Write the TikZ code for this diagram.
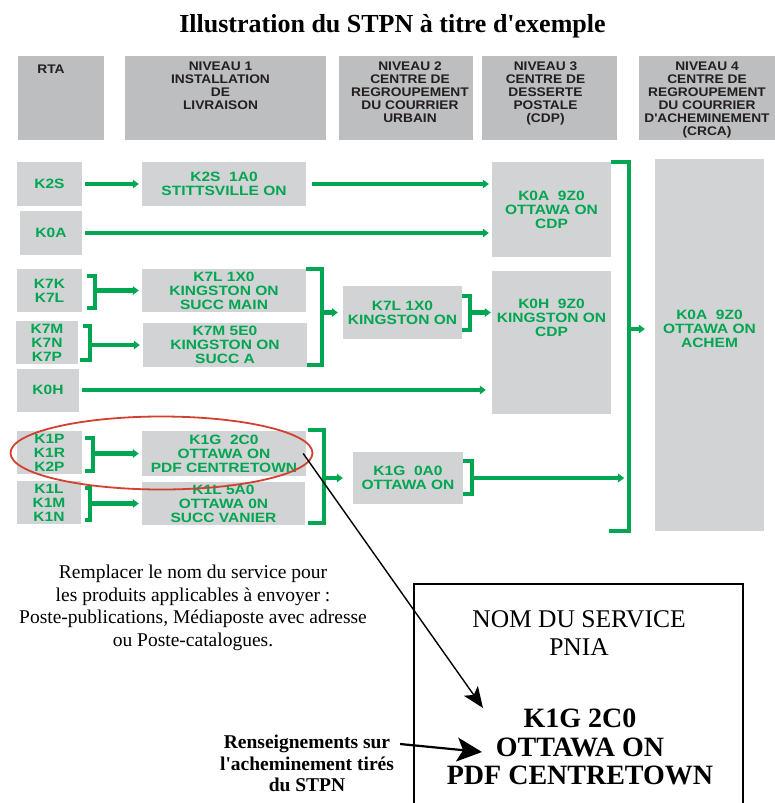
\documentclass[tikz,border=0pt]{standalone}
\usepackage{fontspec}
\setmainfont{Liberation Serif}
\newfontfamily\boxsans[FakeStretch=1.15]{Liberation Sans}
\newfontfamily\headsans[FakeStretch=1.1]{Liberation Sans}
\usetikzlibrary{positioning,arrows.meta,calc}
\definecolor{stpnGreen}{HTML}{00A651}
\definecolor{stpnBox}{HTML}{D1D3D4}
\definecolor{stpnHead}{HTML}{BCBEC0}
\definecolor{stpnInk}{HTML}{231F20}
\definecolor{stpnRed}{HTML}{D2412F}

\begin{document}
\begin{tikzpicture}[
  x=1pt,
  y=-1pt,
  headbox/.style={fill=stpnHead, minimum height=84pt, inner sep=0pt},
  headtext/.style={align=center, inner sep=0pt, text=stpnInk, font=\headsans\bfseries\fontsize{12.5}{13}\selectfont},
  site/.style={fill=stpnBox, inner sep=0pt, align=center, text=stpnGreen, font=\boxsans\bfseries\fontsize{13.5}{14}\selectfont},
  sitetext/.style={inner sep=0pt, align=center, text=stpnGreen, font=\boxsans\bfseries\fontsize{13.5}{14}\selectfont},
  link/.style={-{Triangle[length=6pt,width=8.5pt]}, line width=4.3pt, draw=stpnGreen, shorten >=3pt},
  bracket/.style={line width=4.5pt, draw=stpnGreen},
  pointer/.style={-{Stealth[length=21pt,width=17pt,inset=5pt]}, line width=1.4pt, draw=black},
  ring/.style={draw=stpnRed, line width=1.8pt},
  note/.style={inner sep=0pt, align=center, text=black}
]
\useasboundingbox (0,0) rectangle (775,803);

\node[note, anchor=base, font=\bfseries\fontsize{26}{30}\selectfont] (title) at (392.5,32) {Illustration du STPN à titre d\textquotesingle exemple};

\node[headbox, minimum width=86pt] (hrta) at (61,98) {};
\node[headbox, minimum width=201pt] (hniv1) at (225.5,98) {};
\node[headbox, minimum width=134pt] (hniv2) at (406,98) {};
\node[headbox, minimum width=135pt] (hniv3) at (549.5,98) {};
\node[headbox, minimum width=136pt] (hniv4) at (707,98) {};
\node[headtext, below=9pt of hrta.north, xshift=-10pt] (trta) {RTA};
\node[headtext, below=6pt of hniv1.north, xshift=-5pt] (tniv1) {NIVEAU 1\\INSTALLATION\\DE\\LIVRAISON};
\node[headtext, below=6pt of hniv2.north, xshift=4pt] (tniv2) {NIVEAU 2\\CENTRE DE\\REGROUPEMENT\\DU COURRIER\\URBAIN};
\node[headtext, below=6pt of hniv3.north, xshift=-4pt] (tniv3) {NIVEAU 3\\CENTRE DE\\DESSERTE\\POSTALE\\(CDP)};
\node[headtext, below=6pt of hniv4.north] (tniv4) {NIVEAU 4\\CENTRE DE\\REGROUPEMENT\\DU COURRIER\\D\textquotesingle ACHEMINEMENT\\(CRCA)};

\node[site, minimum width=65pt, minimum height=44pt] (k2s) at (49.5,184) {K2S};
\node[site, minimum width=62pt, minimum height=44pt] (k0a) at (51,233) {K0A};
\node[site, minimum width=65pt, minimum height=43pt] (k7k) at (49.5,290.5) {K7K\\K7L};
\node[site, minimum width=62pt, minimum height=43pt] (k7m) at (47,342.5) {K7M\\K7N\\K7P};
\node[site, minimum width=62pt, minimum height=43pt] (k0h) at (48,390) {K0H};
\node[site, minimum width=65pt, minimum height=43pt] (k1p) at (49.5,452.5) {K1P\\K1R\\K2P};
\node[site, minimum width=64pt, minimum height=43pt] (k1l) at (49,502.5) {K1L\\K1M\\K1N};

\node[site, minimum width=164pt, minimum height=44pt] (stitt) at (224,184) {K2S~~1A0\\STITTSVILLE ON};
\node[site, minimum width=164pt, minimum height=43pt] (kmain) at (224,290.5) {K7L 1X0\\KINGSTON ON\\SUCC MAIN};
\node[site, minimum width=164pt, minimum height=44pt] (ksucca) at (225,345) {K7M 5E0\\KINGSTON ON\\SUCC A};
\node[site, minimum width=164pt, minimum height=45pt] (pdfct) at (224,453.5) {K1G~~2C0\\OTTAWA ON\\PDF CENTRETOWN};
\node[site, minimum width=163pt, minimum height=43pt] (vanier) at (223.5,503.5) {K1L 5A0\\OTTAWA 0N\\SUCC VANIER};

\node[site, minimum width=119pt, minimum height=53pt] (kurb) at (402.5,312.5) {K7L 1X0\\KINGSTON ON};
\node[site, minimum width=110pt, minimum height=52pt] (ourb) at (408,478) {K1G~~0A0\\OTTAWA ON};

\node[site, minimum width=119pt, minimum height=95pt] (cdpott) at (551.5,209.5) {K0A~~9Z0\\OTTAWA ON\\CDP};
\node[site, minimum width=119pt, minimum height=143pt] (cdpking) at (551.5,342.5) {};
\node[sitetext] (tking) at (551.5,318) {K0H~~9Z0\\KINGSTON ON\\CDP};

\node[site, minimum width=109pt, minimum height=372pt] (achem) at (709.5,345) {};
\node[sitetext] (tachem) at (709.5,329) {K0A~~9Z0\\OTTAWA ON\\ACHEM};
\coordinate (crcaspine) at ([xshift=18pt]cdpott.east);

\draw[link, shorten <=3pt] (k2s) -- (stitt);
\draw[link, shorten <=6pt] (stitt.east) -- (stitt.east -| cdpott.west);
\draw[link, shorten <=3pt] (k0a.east) -- (k0a.east -| cdpott.west);

\draw[bracket] ([xshift=5pt,yshift=-7pt]k7k.north east) -| ([xshift=13pt,yshift=4pt]k7k.south east) -- ([xshift=5pt,yshift=4pt]k7k.south east);
\draw[link] ([xshift=13pt]k7k.east) -- (kmain);
\draw[bracket] ([xshift=5pt,yshift=-5pt]k7m.north east) -| ([xshift=12pt,yshift=4pt]k7m.south east) -- ([xshift=2pt,yshift=4pt]k7m.south east);
\draw[link] ([xshift=12pt]k7m.east |- ksucca) -- (ksucca);

\draw[bracket] (kmain.north east) -| ([xshift=15pt,yshift=2pt]ksucca.south east) -- ([yshift=2pt]ksucca.south east);
\draw[link, shorten >=5pt] ([xshift=15pt]ksucca.east |- kurb) -- (kurb);
\draw[bracket] ([yshift=-10pt]kurb.north east) -| ([xshift=8pt,yshift=9pt]kurb.south east) -- ([yshift=9pt]kurb.south east);
\draw[link, shorten >=1pt] ([xshift=8pt]kurb.east) -- (kurb.east -| cdpking.west);

\draw[link, shorten <=3pt, shorten >=6pt] (k0h.east) -- (k0h.east -| cdpking.west);

\draw[bracket] ([xshift=3pt,yshift=-7pt]k1p.north east) -| ([xshift=11pt,yshift=3pt]k1p.south east) -- ([xshift=3pt,yshift=3pt]k1p.south east);
\draw[link] ([xshift=11pt]k1p.east |- pdfct) -- (pdfct);
\draw[bracket] ([xshift=4pt,yshift=-7pt]k1l.north east) -| ([xshift=9pt,yshift=4pt]k1l.south east) -- ([xshift=4pt,yshift=4pt]k1l.south east);
\draw[link] ([xshift=9pt]k1l.east |- vanier) -- (vanier);

\draw[bracket] ([xshift=2pt,yshift=1pt]pdfct.north east) -| ([xshift=19pt,yshift=2pt]vanier.south east) -- ([xshift=3pt,yshift=2pt]vanier.south east);
\draw[link, shorten >=10pt] ([xshift=19pt]vanier.east |- ourb) -- (ourb);
\draw[bracket] ([yshift=-9pt]ourb.north east) -| ([xshift=9pt,yshift=10pt]ourb.south east) -- ([yshift=10pt]ourb.south east);
\draw[link, shorten >=5pt] ([xshift=9pt]ourb.east) -- (ourb.east -| crcaspine);

\draw[bracket] (cdpott.north east) -| (crcaspine |- achem.south) -- ([xshift=-2pt]cdpott.east |- achem.south);
\draw[link, shorten >=10pt] (crcaspine |- tachem) -- (tachem -| achem.west);

\draw[ring] ($(k1p.west)!0.5!(pdfct.east)$) ellipse [x radius=151pt, y radius=36.5pt];

\node[note, anchor=north, font=\fontsize{19.5}{22.5}\selectfont] (remplacer) at (193,565) {Remplacer le nom du service pour\\les produits applicables à envoyer :\\Poste-publications, Médiaposte avec adresse\\ou Poste-catalogues.};
\node[note, anchor=north, font=\bfseries\fontsize{19.5}{21.5}\selectfont] (routing) at (307,735) {Renseignements sur\\l\textquotesingle acheminement tirés\\du STPN};

\node[draw=black, line width=1.5pt, minimum width=329pt, minimum height=246pt, inner sep=0pt] (pnia) at (578.5,707) {};
\node[note, anchor=north, font=\fontsize{25.5}{28}\selectfont] (svc) at (579,610) {NOM DU SERVICE\\PNIA};
\node[note, anchor=north, font=\bfseries\fontsize{28}{28.5}\selectfont] (addr) at (580,709) {K1G 2C0\\OTTAWA ON\\PDF CENTRETOWN};

\coordinate (tipa) at (483,708);
\coordinate (tipb) at (482,752);
\draw[pointer] ([xshift=-3pt]pdfct.east) -- (tipa);
\draw[pointer, line width=2.2pt, -{Stealth[length=25pt,width=24pt,inset=6pt]}] ([xshift=6pt,yshift=-9pt]routing.north east) -- (tipb);
\end{tikzpicture}
\end{document}
